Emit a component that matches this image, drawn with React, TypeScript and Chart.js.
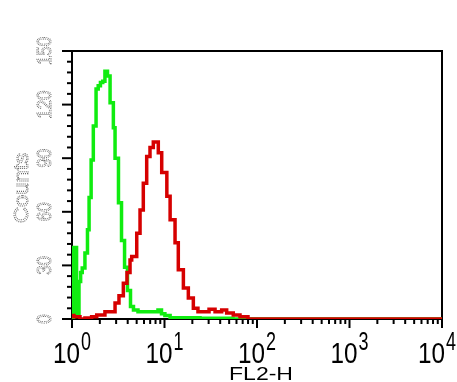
import React, { useEffect, useRef } from 'react';
import { Chart, registerables } from 'chart.js';

Chart.register(...registerables);

// FL2-H channel left edges and counts
const greenX = [1.0, 1.04, 1.12, 1.19, 1.24, 1.29, 1.38, 1.47, 1.53, 1.61, 1.70, 1.82, 1.92, 2.03, 2.15, 2.27, 2.42, 2.58, 2.80, 2.92, 3.18, 3.43, 3.70, 3.98, 4.29, 4.62, 5.17, 8.5, 9.28, 10.1, 11.5, 24.2, 55, 10000];
const greenY = [0, 40, 3, 21, 26, 28.5, 37, 50, 68, 89, 108, 128.7, 130.5, 132.4, 133, 138.6, 136, 121, 107, 90, 65, 44, 29, 16, 7, 5, 4, 5, 3, 2, 0.7, 0.4, 0, 0];

const redX = [1.0, 1.05, 1.22, 1.38, 1.63, 1.85, 2.27, 2.58, 2.92, 3.22, 3.59, 3.93, 4.24, 4.42, 5.01, 5.44, 5.90, 6.42, 6.97, 7.57, 8.57, 9.33, 10.6, 11.5, 13.0, 14.1, 16.0, 18.1, 20.5, 23.0, 30.3, 35.2, 41.5, 47.0, 55.4, 65.5, 79.9, 10000];
const redY = [2, 1.3, 0, 0.5, 1.3, 2.2, 4, 4, 9, 13, 20, 26, 33, 35, 48, 61, 76, 91, 96, 99, 93, 82, 68.7, 55.6, 42.7, 27.5, 17.4, 11.8, 6, 4, 5.5, 4, 5, 3.3, 2.2, 1.3, 0, 0];

const xTickExponents = [0, 1, 2, 3, 4];
const xMinorMultipliers = [2, 3, 4, 5, 6, 7, 8, 9];
const yTickLabels = [0, 30, 60, 90, 120, 150];
const yMinorStep = 6;
const xTitle = 'FL2-H';
const yTitle = 'Counts';

const FONT = 'Arial, "Liberation Sans", sans-serif';

// Draws text whose rendered width is forced to targetW (if given)
function drawText(
  ctx: CanvasRenderingContext2D,
  text: string,
  x: number,
  y: number,
  size: number,
  targetW: number | null,
  rot: number,
  align: CanvasTextAlign,
  baseline: CanvasTextBaseline,
  dotted: boolean
) {
  ctx.save();
  ctx.font = `${size}px ${FONT}`;
  const w = ctx.measureText(text).width;
  const sx = targetW ? targetW / w : 1;
  ctx.translate(x, y);
  ctx.rotate(rot);
  ctx.scale(sx, 1);
  ctx.textAlign = align;
  ctx.textBaseline = baseline;
  if (dotted) {
    ctx.setLineDash([1, 1]);
    ctx.lineWidth = 1;
    ctx.strokeStyle = '#6a6a6a';
    ctx.strokeText(text, 0, 0);
  } else {
    ctx.fillStyle = '#000';
    ctx.fillText(text, 0, 0);
  }
  ctx.restore();
}

const axesPlugin = {
  id: 'fcsAxes',
  beforeDatasetsDraw(chart: any) {
    const { ctx, chartArea, scales } = chart;
    const { left, right, top, bottom } = chartArea;
    const xs = scales.x;
    const ys = scales.y;
    ctx.save();
    ctx.strokeStyle = '#000';
    ctx.lineWidth = 2;
    ctx.strokeRect(left, top, right - left, bottom - top);

    // x ticks
    xTickExponents.forEach((e, i) => {
      const px = xs.getPixelForValue(Math.pow(10, e));
      ctx.beginPath();
      ctx.moveTo(px, bottom);
      ctx.lineTo(px, bottom + 9);
      ctx.stroke();
      if (i < xTickExponents.length - 1) {
        xMinorMultipliers.forEach((m) => {
          const mp = xs.getPixelForValue(m * Math.pow(10, e));
          ctx.beginPath();
          ctx.moveTo(mp, bottom);
          ctx.lineTo(mp, bottom + 5);
          ctx.stroke();
        });
      }
    });

    // y ticks
    const yMax = yTickLabels[yTickLabels.length - 1];
    for (let v = 0; v <= yMax; v += yMinorStep) {
      const py = ys.getPixelForValue(v);
      const major = yTickLabels.includes(v);
      ctx.beginPath();
      ctx.moveTo(left, py);
      ctx.lineTo(left - (major ? 10 : 5), py);
      ctx.stroke();
    }
    ctx.restore();
  },
  afterDraw(chart: any) {
    const { ctx, chartArea, scales } = chart;
    const { left, right, top, bottom } = chartArea;
    const xs = scales.x;
    const ys = scales.y;
    ctx.save();

    // x tick labels 10^n
    const mainW = 27;
    const supW = 10;
    xTickExponents.forEach((e) => {
      const px = xs.getPixelForValue(Math.pow(10, e));
      const total = mainW + 1 + supW;
      let start = px - total / 2;
      if (start + total > chart.width - 1) start = chart.width - 1 - total;
      if (start < 0) start = 0;
      drawText(ctx, '10', start, bottom + 44, 29, mainW, 0, 'left', 'alphabetic', false);
      drawText(ctx, String(e), start + mainW + 1, bottom + 31, 25, supW, 0, 'left', 'alphabetic', false);
    });

    // x title
    drawText(ctx, xTitle, (left + right) / 2 + 4, bottom + 60.5, 19, 64, 0, 'center', 'alphabetic', false);

    // y tick labels (rotated, light dotted)
    yTickLabels.forEach((v) => {
      const py = ys.getPixelForValue(v);
      const s = String(v);
      drawText(ctx, s, 45, py, 20, 9.4 * s.length, -Math.PI / 2, 'center', 'middle', true);
    });

    // y title
    drawText(ctx, yTitle, 22, (top + bottom) / 2 + 3, 21, 70, -Math.PI / 2, 'center', 'middle', true);
    ctx.restore();
  },
};

export default function App() {
  const canvasRef = useRef<HTMLCanvasElement | null>(null);

  useEffect(() => {
    document.body.style.margin = '0';
    const canvas = canvasRef.current;
    if (!canvas) return;
    const chart = new Chart(canvas, {
      type: 'line',
      data: {
        datasets: [
          {
            label: 'stained',
            data: redX.map((x, i) => ({ x, y: redY[i] })),
            borderColor: 'rgb(214,0,0)',
            borderWidth: 3.5,
            stepped: true,
            pointRadius: 0,
            fill: false,
          },
          {
            label: 'control',
            data: greenX.map((x, i) => ({ x, y: greenY[i] })),
            borderColor: 'rgb(16,236,16)',
            borderWidth: 3.5,
            stepped: true,
            pointRadius: 0,
            fill: false,
          },
        ],
      },
      options: {
        responsive: false,
        devicePixelRatio: 1,
        animation: false,
        layout: { padding: { left: 72, right: 15, top: 51, bottom: 63 } },
        plugins: { legend: { display: false }, tooltip: { enabled: false } },
        scales: {
          x: { type: 'logarithmic', min: 1, max: 10000, display: false },
          y: { type: 'linear', min: 0, max: 150, display: false },
        },
      },
      plugins: [axesPlugin],
    });
    return () => chart.destroy();
  }, []);

  return (
    <div style={{ width: 457, height: 382, background: '#fff' }}>
      <canvas ref={canvasRef} width={457} height={382} style={{ display: 'block', width: 457, height: 382 }} />
    </div>
  );
}
